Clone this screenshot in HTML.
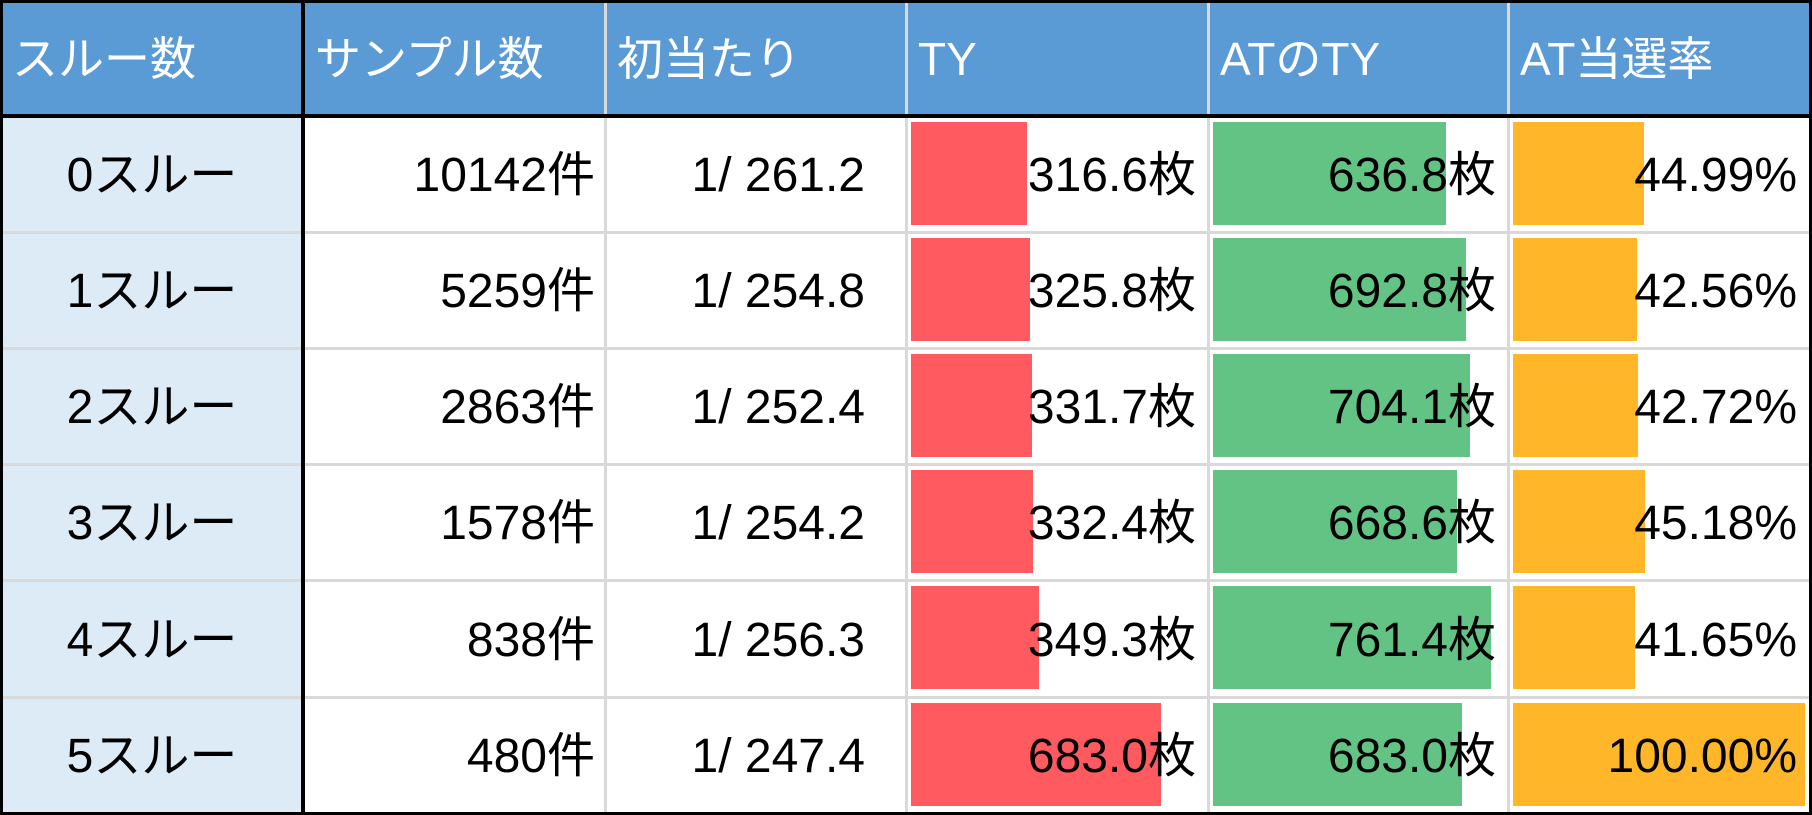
<!DOCTYPE html>
<html><head><meta charset="utf-8">
<style>
body{margin:0;width:1812px;height:815px;overflow:hidden;background:#fff;font-family:"Liberation Sans","Noto Sans CJK JP",sans-serif;}
#t{position:absolute;left:0;top:0;width:1812px;height:815px;}
.c{position:absolute;box-sizing:border-box;}
.tx{position:absolute;white-space:nowrap;font-size:48px;color:#000;line-height:1;}
.hd{color:#fff;font-size:46px;}
.ln{position:absolute;}
</style></head><body>
<div id="t"></div>
<script>
const headers=["スルー数","サンプル数","初当たり","TY","ATのTY","AT当選率"];
const rowLabels=["0スルー","1スルー","2スルー","3スルー","4スルー","5スルー"];
const samples=[10142,5259,2863,1578,838,480];
const firstHit=[261.2,254.8,252.4,254.2,256.3,247.4];
const ty=[316.6,325.8,331.7,332.4,349.3,683.0];
const atTy=[636.8,692.8,704.1,668.6,761.4,683.0];
const atRate=[44.99,42.56,42.72,45.18,41.65,100.00];

const colX=[0,303,605,906,1208,1508,1810];
const rowY=[0,116,232,348,464,580,697,813];
const t=document.getElementById('t');
function box(x,y,w,h,bg){const d=document.createElement('div');d.className='c';d.style.cssText=`left:${x}px;top:${y}px;width:${w}px;height:${h}px;background:${bg}`;t.appendChild(d);return d;}
function text(s,x,y,align,cls){const d=document.createElement('div');d.className='tx'+(cls?' '+cls:'');d.textContent=s;d.style.top=(y-24)+'px';
 if(align==='right'){d.style.right=(1812-x)+'px';}else if(align==='center'){d.style.left=x+'px';d.style.transform='translateX(-50%)';}else{d.style.left=x+'px';}
 t.appendChild(d);return d;}
// header
let hb=box(0,0,1812,116,'#5b9bd5');


let fc=box(0,116,303,699,'#ddebf7');


headers.forEach((h,i)=>{const e=text(h,colX[i]+12,60,'left','hd');

});
// bars
const tyMax=Math.max(...ty), atMax=Math.max(...atTy);
function bar(col,v,max,full,color,r,name){const y=rowY[r+1]+6;const w=v/max*full;const b=box(colX[col]+5,y,w,103,color);

}
for(let r=0;r<6;r++){
 bar(3,ty[r],tyMax,250,'#ff5a5f',r,'ty-bar-'+r);
 bar(4,atTy[r],atMax,278,'#63c384',r,'at-ty-bar-'+r);
 bar(5,atRate[r],100,292,'#ffb628',r,'at-rate-bar-'+r);
}
// grid lines
function ln(x,y,w,h,c,name){const d=box(x,y,w,h,c);d.classList.add('ln');

}
for(let r=2;r<7;r++) ln(0,rowY[r]-1,1812,3,'#d9d9d9','row-line');
for(let c=2;c<6;c++) ln(colX[c]-1,0,3,815,'#d9d9d9','col-line');
ln(0,114,1812,4,'#000','header-border');
ln(301,0,4,815,'#000','label-border');
ln(0,0,1812,3,'#000','outer-top');
ln(0,812,1812,3,'#000','outer-bottom');
ln(0,0,3,815,'#000','outer-left');
ln(1809,0,3,815,'#000','outer-right');
// texts
for(let r=0;r<6;r++){
 const cy=(rowY[r+1]+rowY[r+2])/2+2;
 let e;
 e=text(rowLabels[r],152,cy,'center');
 
 
 e=text(samples[r]+'件',595,cy,'right');
 
 
 e=text('1/ '+firstHit[r].toFixed(1),865,cy,'right');
 
 
 e=text(ty[r].toFixed(1)+'枚',1196,cy,'right');
 
 
 e=text(atTy[r].toFixed(1)+'枚',1496,cy,'right');
 
 
 e=text(atRate[r].toFixed(2)+'%',1797,cy,'right');
 
 
}
</script>
</body></html>
